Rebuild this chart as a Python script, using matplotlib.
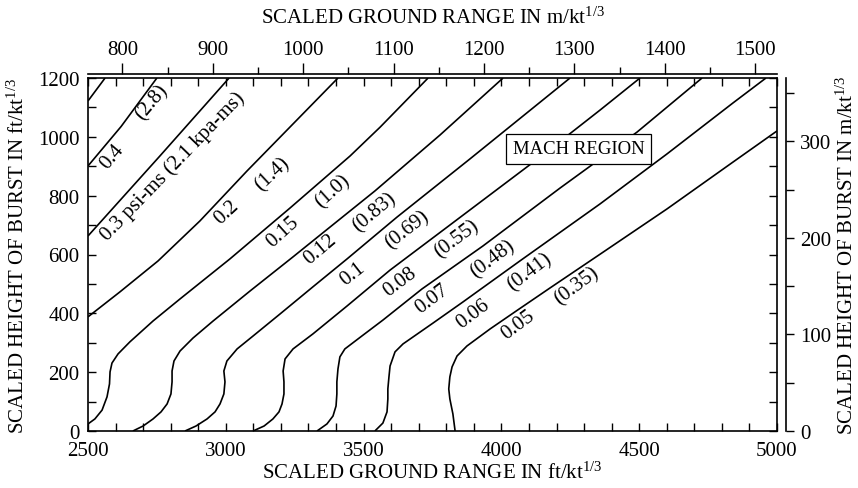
import matplotlib
matplotlib.use("Agg")
import matplotlib.pyplot as plt
from matplotlib.ticker import MultipleLocator, NullFormatter

plt.rcParams["font.family"] = ["Liberation Serif", "DejaVu Serif"]
plt.rcParams["mathtext.fontset"] = "custom"
plt.rcParams["mathtext.rm"] = "Liberation Serif"
plt.rcParams["mathtext.default"] = "regular"

FT_PER_M = 3.28084

# Positive-phase impulse isolines: scaled ground range (ft/kt^1/3) vs scaled HOB (ft/kt^1/3)
range_05 = [2500, 2562]
hob_05 = [1122, 1200]

range_04 = [2500, 2620, 2750]
hob_04 = [901, 1035, 1200]

range_03 = [2500, 2761, 3012]
hob_03 = [663, 935, 1200]

range_02 = [2500, 2616, 2754, 2906, 3077, 3407]
hob_02 = [388, 473, 578, 714, 884, 1200]

range_015 = [2435, 2500, 2525, 2551, 2569, 2578, 2580, 2587, 2609, 2652, 2736, 2834,
             3015, 3233, 3451, 3560, 3734]
hob_015 = [0, 24, 41, 71, 116, 160, 201, 231, 262, 303, 374, 449, 585, 758, 935, 1033, 1200]

range_012 = [2663, 2700, 2736, 2765, 2787, 2801, 2805, 2805, 2812, 2834, 2881, 2954,
             3088, 3244, 3342, 3541, 3777, 4006]
hob_012 = [0, 17, 41, 65, 92, 126, 167, 204, 238, 272, 316, 374, 476, 592, 666, 816,
           1006, 1200]

range_010 = [2852, 2892, 2932, 2961, 2979, 2993, 2997, 2993, 3004, 3041, 3099, 3197,
             3316, 3440, 3621, 3886, 4249]
hob_010 = [0, 17, 41, 65, 92, 126, 167, 204, 238, 279, 323, 398, 490, 585, 727, 925, 1200]

range_008 = [3099, 3139, 3171, 3193, 3204, 3211, 3211, 3208, 3215, 3244, 3316, 3440,
             3596, 3803, 4140, 4358, 4503]
hob_008 = [0, 17, 41, 65, 92, 126, 167, 204, 245, 279, 330, 425, 547, 693, 931, 1091, 1200]

range_007 = [3331, 3367, 3389, 3400, 3403, 3403, 3407, 3414, 3432, 3498, 3570, 3712,
             3933, 4213, 4492, 4728]
hob_007 = [0, 24, 51, 85, 126, 167, 211, 252, 279, 326, 377, 483, 629, 826, 1016, 1200]

range_006 = [3541, 3570, 3585, 3588, 3588, 3592, 3596, 3614, 3643, 3752, 3861, 4067,
             4358, 4601, 4840, 4960]
hob_006 = [0, 27, 65, 109, 143, 184, 221, 269, 296, 367, 439, 578, 772, 942, 1115, 1200]

range_005 = [3832, 3824, 3813, 3809, 3813, 3821, 3839, 3875, 3959, 4057, 4176, 4358,
             4601, 4840, 5000]
hob_005 = [0, 58, 109, 143, 184, 218, 255, 289, 347, 410, 486, 601, 755, 914, 1020]

curves = [
    (range_05, hob_05), (range_04, hob_04), (range_03, hob_03), (range_02, hob_02),
    (range_015, hob_015), (range_012, hob_012), (range_010, hob_010),
    (range_008, hob_008), (range_007, hob_007), (range_006, hob_006),
    (range_005, hob_005),
]

# isoline labels: text, ground range, HOB, rotation
label_text = ["0.4", "(2.8)", "0.3 psi-ms (2.1 kpa-ms)", "0.2", "(1.4)", "0.15", "(1.0)",
              "0.12", "(0.83)", "0.1", "(0.69)", "0.08", "(0.55)", "0.07", "(0.48)",
              "0.06", "(0.41)", "0.05", "(0.35)"]
label_range = [2587, 2732, 2808, 3004, 3168, 3208, 3389, 3342, 3541, 3461, 3657,
               3632, 3839, 3748, 3969, 3897, 4104, 4060, 4274]
label_hob = [935, 1119, 901, 745, 874, 677, 816, 619, 745, 534, 687, 507, 653, 449,
             585, 398, 541, 364, 493]
label_angle = [50, 50, 46, 43, 43, 42, 42, 40, 40, 38, 38, 37, 37, 37, 37, 37, 37, 37, 37]

x_major = [2500, 3000, 3500, 4000, 4500, 5000]
y_major = [0, 200, 400, 600, 800, 1000, 1200]
m_top_major = [800, 900, 1000, 1100, 1200, 1300, 1400, 1500]
m_right_major = [0, 100, 200, 300]

fig = plt.figure(figsize=(8.58, 4.89), dpi=100)
ax = fig.add_axes([88 / 858, 1 - 432 / 489, 689 / 858, 353 / 489])

for xr, yh in curves:
    ax.plot(xr, yh, color="black", lw=1.2, solid_capstyle="butt", solid_joinstyle="round")

for t, xr, yh, ang in zip(label_text, label_range, label_hob, label_angle):
    ax.text(xr, yh, t, rotation=ang, rotation_mode="anchor", ha="center", va="center",
            fontsize=15)

ax.text(4281, 959, "MACH REGION", ha="center", va="center", fontsize=13.5, zorder=5,
        bbox=dict(boxstyle="square,pad=0.35", fc="white", ec="black", lw=0.9))

ax.set_xlim(2500, 5000)
ax.set_ylim(0, 1200)
ax.set_xticks(x_major)
ax.set_yticks(y_major)
ax.xaxis.set_minor_locator(MultipleLocator(100))
ax.yaxis.set_minor_locator(MultipleLocator(100))
ax.tick_params(which="both", direction="in", length=6, width=1.0, top=True, right=True,
               labelsize=15)
ax.tick_params(axis="x", pad=7.5)
ax.tick_params(axis="y", pad=6)
for s in ax.spines.values():
    s.set_linewidth(1.2)

ax.set_xlabel("SCALED GROUND RANGE IN ft/kt$^{1/3}$", fontsize=15, labelpad=1)
ax.set_ylabel("SCALED HEIGHT OF BURST IN ft/kt$^{1/3}$", fontsize=15, labelpad=7)

top = ax.secondary_xaxis("top", functions=(lambda v: v / FT_PER_M, lambda v: v * FT_PER_M))
top.set_xticks(m_top_major)
top.xaxis.set_minor_locator(MultipleLocator(50))
top.xaxis.set_minor_formatter(NullFormatter())
top.tick_params(which="major", direction="out", length=8, width=1.0, labelsize=15, pad=3)
top.tick_params(which="minor", direction="out", length=5, width=1.0)
top.spines["top"].set_position(("outward", 3))
top.spines["top"].set_linewidth(1.2)
top.set_xlabel("SCALED GROUND RANGE IN m/kt$^{1/3}$", fontsize=15, labelpad=12)

right = ax.secondary_yaxis("right", functions=(lambda v: v / FT_PER_M, lambda v: v * FT_PER_M))
right.set_yticks(m_right_major)
right.yaxis.set_minor_locator(MultipleLocator(50))
right.yaxis.set_minor_formatter(NullFormatter())
right.tick_params(which="both", direction="out", length=6, width=1.0, labelsize=15, pad=4)
right.spines["right"].set_position(("outward", 6.5))
right.spines["right"].set_linewidth(1.2)
right.set_ylabel("SCALED HEIGHT OF BURST IN m/kt$^{1/3}$", fontsize=15, labelpad=4)

fig.savefig("out.png", dpi=100)
